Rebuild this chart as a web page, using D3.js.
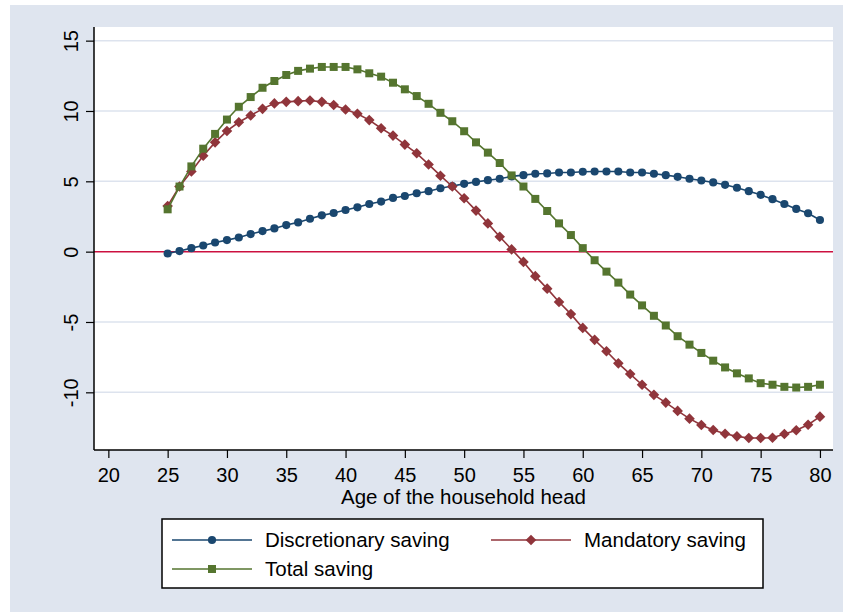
<!DOCTYPE html>
<html>
<head>
<meta charset="utf-8">
<script src="https://cdn.jsdelivr.net/npm/d3@7"></script>
<style>
  html, body { margin: 0; padding: 0; background: #ffffff; }
  svg { display: block; font-family: "Liberation Sans", Arial, sans-serif; }
</style>
</head>
<body>
<svg id="chart" width="843" height="612"></svg>
<script>
// Age of household head, 25..80
const ages = [25,26,27,28,29,30,31,32,33,34,35,36,37,38,39,40,41,42,43,44,45,46,47,48,49,50,
              51,52,53,54,55,56,57,58,59,60,61,62,63,64,65,66,67,68,69,70,71,72,73,74,75,76,77,78,79,80];

const discretionary = [-0.13,0.04,0.25,0.44,0.65,0.82,1.01,1.25,1.46,1.65,1.89,2.08,2.34,2.58,2.75,2.96,
  3.15,3.39,3.56,3.82,3.96,4.15,4.30,4.51,4.67,4.82,4.96,5.08,5.18,5.35,5.44,5.54,5.56,5.63,5.63,5.68,
  5.70,5.70,5.70,5.63,5.63,5.54,5.44,5.32,5.18,5.06,4.92,4.75,4.54,4.30,4.04,3.73,3.39,3.04,2.73,2.25];

const mandatory = [3.25,4.63,5.70,6.82,7.77,8.58,9.20,9.68,10.15,10.54,10.65,10.70,10.75,10.65,10.42,10.11,
  9.80,9.35,8.77,8.25,7.61,6.99,6.20,5.40,4.63,3.80,2.92,2.01,1.06,0.16,-0.73,-1.74,-2.63,-3.58,-4.44,-5.42,
  -6.27,-7.08,-7.94,-8.70,-9.46,-10.18,-10.73,-11.32,-11.87,-12.32,-12.68,-12.94,-13.13,-13.25,-13.25,-13.23,
  -12.96,-12.70,-12.30,-11.73];

const total = [3.01,4.63,6.06,7.32,8.37,9.39,10.30,10.99,11.65,12.13,12.56,12.85,13.01,13.13,13.13,13.13,
  12.96,12.68,12.44,12.01,11.54,11.06,10.51,9.87,9.27,8.56,7.77,7.04,6.30,5.42,4.63,3.75,2.89,2.01,1.18,0.25,
  -0.61,-1.42,-2.20,-3.05,-3.82,-4.56,-5.25,-6.01,-6.61,-7.20,-7.75,-8.23,-8.65,-9.01,-9.35,-9.46,-9.61,
  -9.66,-9.61,-9.46];

const xTicks = [20,25,30,35,40,45,50,55,60,65,70,75,80];
const yTicks = [-10,-5,0,5,10,15];
const xTitle = "Age of the household head";

const seriesNames = ["Discretionary saving", "Mandatory saving", "Total saving"];
const seriesColors = ["#1a476f", "#90353b", "#55752f"];
const seriesShapes = ["circle", "diamond", "square"];
const seriesValues = [discretionary, mandatory, total];

const svg = d3.select("#chart");
const W = 843, H = 612;
const plot = { left: 94, right: 833, top: 27, bottom: 450 };
const tickFmt = d => String(d);   // plain hyphen-minus for negatives

// outer graph region
svg.append("rect").attr("x", 10).attr("y", 5).attr("width", W - 10).attr("height", H - 5)
  .attr("fill", "#dfe5ef");
// plot region
svg.append("rect").attr("x", plot.left).attr("y", plot.top)
  .attr("width", plot.right - plot.left).attr("height", plot.bottom - plot.top)
  .attr("fill", "#ffffff");

const x = d3.scaleLinear().domain([18.79, 81.1]).range([plot.left, plot.right]);
const y = d3.scaleLinear().domain([-14.1, 15.97]).range([plot.bottom, plot.top]);

// horizontal gridlines
svg.append("g").selectAll("line").data(yTicks.filter(d => d !== 0)).join("line")
  .attr("x1", plot.left).attr("x2", plot.right)
  .attr("y1", d => y(d)).attr("y2", d => y(d))
  .attr("stroke", "#dde3ee").attr("stroke-width", 1.5);

// zero reference line
svg.append("line")
  .attr("x1", plot.left).attr("x2", plot.right)
  .attr("y1", y(0)).attr("y2", y(0))
  .attr("stroke", "#cc1040").attr("stroke-width", 1.5);

// axes
const yAxis = svg.append("g").attr("transform", `translate(${plot.left},0)`)
  .call(d3.axisLeft(y).tickValues(yTicks).tickSize(8).tickFormat(tickFmt));
yAxis.select(".domain").attr("d", `M0,${plot.top}V${plot.bottom}`).attr("stroke", "#000").attr("stroke-width", 1.5);
yAxis.selectAll(".tick line").attr("stroke", "#000").attr("stroke-width", 1.2);
yAxis.selectAll(".tick text")
  .attr("x", null).attr("dy", null)
  .attr("transform", "translate(-16,0) rotate(-90)")
  .attr("text-anchor", "middle")
  .attr("font-size", 20).attr("fill", "#000")
  .attr("font-family", "Liberation Sans, Arial, sans-serif");

const xAxis = svg.append("g").attr("transform", `translate(0,${plot.bottom})`)
  .call(d3.axisBottom(x).tickValues(xTicks).tickSize(8).tickFormat(tickFmt));
xAxis.select(".domain").attr("d", `M${plot.left},0H${plot.right}`).attr("stroke", "#000").attr("stroke-width", 1.5);
xAxis.selectAll(".tick line").attr("stroke", "#000").attr("stroke-width", 1.2);
xAxis.selectAll(".tick text")
  .attr("y", 32).attr("dy", null)
  .attr("font-size", 20).attr("fill", "#000")
  .attr("font-family", "Liberation Sans, Arial, sans-serif");

svg.append("text")
  .attr("x", (plot.left + plot.right) / 2).attr("y", 504)
  .attr("text-anchor", "middle").attr("font-size", 20.5).attr("fill", "#000")
  .text(xTitle);

// marker shapes
function markerPath(shape) {
  if (shape === "circle") return d3.symbol(d3.symbolCircle, 52)();
  if (shape === "square") return "M-4,-4H4V4H-4Z";
  return "M0,-5.3L5.3,0L0,5.3L-5.3,0Z";
}

const line = d3.line().x(d => x(d[0])).y(d => y(d[1]));

seriesValues.forEach((vals, i) => {
  const pts = ages.map((a, j) => [a, vals[j]]);
  const g = svg.append("g");
  g.append("path").datum(pts).attr("d", line)
    .attr("fill", "none").attr("stroke", seriesColors[i]).attr("stroke-width", 1.6);
  g.selectAll("path.mk").data(pts).join("path").attr("class", "mk")
    .attr("transform", d => `translate(${x(d[0])},${y(d[1])})`)
    .attr("d", markerPath(seriesShapes[i]))
    .attr("fill", seriesColors[i]);
});

// legend
const legend = svg.append("g");
legend.append("rect").attr("x", 162).attr("y", 519).attr("width", 601).attr("height", 69)
  .attr("fill", "#ffffff").attr("stroke", "#000").attr("stroke-width", 1.5);
const legendPos = [[172, 540], [491, 540], [172, 569]];
seriesNames.forEach((name, i) => {
  const [lx, ly] = legendPos[i];
  legend.append("line").attr("x1", lx).attr("x2", lx + 80).attr("y1", ly).attr("y2", ly)
    .attr("stroke", seriesColors[i]).attr("stroke-width", 1.6);
  legend.append("path").attr("transform", `translate(${lx + 40},${ly})`)
    .attr("d", markerPath(seriesShapes[i])).attr("fill", seriesColors[i]);
  legend.append("text").attr("x", lx + 93).attr("y", ly + 7)
    .attr("font-size", 20.5).attr("fill", "#000").text(name);
});
</script>
</body>
</html>
